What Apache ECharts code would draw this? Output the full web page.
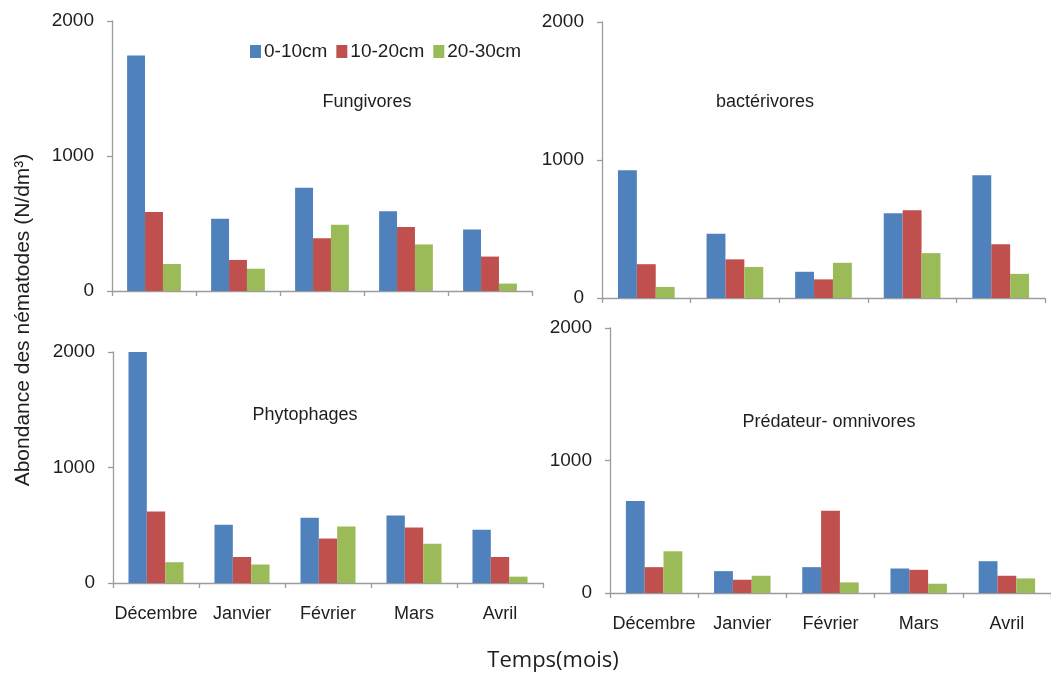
<!DOCTYPE html>
<html>
<head>
<meta charset="utf-8">
<script src="https://cdn.jsdelivr.net/npm/echarts@6/dist/echarts.min.js"></script>
<style>
  html, body { margin: 0; padding: 0; background: #ffffff; }
  #chart { width: 1051px; height: 679px; }
</style>
</head>
<body>
<div id="chart"></div>
<script>
// Months on the x axis and soil depth layers
const months = ['Décembre', 'Janvier', 'Février', 'Mars', 'Avril'];
const depths = ['0-10cm', '10-20cm', '20-30cm'];
const yTicks = [0, 1000, 2000];

// Nematode abundance (N/dm³) by trophic group, one array per depth
const fungivores_0_10 = [1745, 535, 765, 590, 455];
const fungivores_10_20 = [585, 230, 390, 475, 255];
const fungivores_20_30 = [200, 165, 490, 345, 55];

const bacterivores_0_10 = [925, 465, 190, 615, 890];
const bacterivores_10_20 = [245, 280, 135, 635, 390];
const bacterivores_20_30 = [80, 225, 255, 325, 175];

const phytophages_0_10 = [2000, 505, 565, 585, 460];
const phytophages_10_20 = [620, 225, 385, 480, 225];
const phytophages_20_30 = [180, 160, 490, 340, 55];

const predateurs_0_10 = [695, 165, 195, 185, 240];
const predateurs_10_20 = [195, 100, 620, 175, 130];
const predateurs_20_30 = [315, 130, 80, 70, 110];

const panelTitles = ['Fungivores', 'bactérivores', 'Phytophages', 'Prédateur- omnivores'];

const colors = ['#4F81BD', '#C0504D', '#9BBB59'];
const font = "'Liberation Sans', Arial, sans-serif";
const textColor = '#1e1e1e';
const axisColor = '#9c9c9c';

// Layout of the four panels
const grids = [
  { left: 112, top: 21, width: 420, height: 270 },
  { left: 602, top: 22, width: 443, height: 276 },
  { left: 113, top: 352, width: 430, height: 231 },
  { left: 610, top: 328, width: 445, height: 265 }
];
const titlePos = [
  { x: 367, y: 102 },
  { x: 765, y: 102 },
  { x: 305, y: 415 },
  { x: 829, y: 422 }
];

const panelData = [
  [fungivores_0_10, fungivores_10_20, fungivores_20_30],
  [bacterivores_0_10, bacterivores_10_20, bacterivores_20_30],
  [phytophages_0_10, phytophages_10_20, phytophages_20_30],
  [predateurs_0_10, predateurs_10_20, predateurs_20_30]
];

const xAxes = grids.map((g, i) => ({
  type: 'category',
  gridIndex: i,
  data: months,
  axisLine: { show: true, lineStyle: { color: axisColor, width: 1.3 } },
  axisTick: { show: true, length: 5, lineStyle: { color: axisColor, width: 1.3 } },
  axisLabel: {
    show: i >= 2,
    interval: 0,
    margin: 22,
    fontSize: 18,
    fontFamily: font,
    color: textColor
  }
}));

const yAxes = grids.map((g, i) => ({
  type: 'value',
  gridIndex: i,
  min: yTicks[0],
  max: yTicks[yTicks.length - 1],
  interval: 1000,
  splitLine: { show: false },
  axisLine: { show: true, lineStyle: { color: axisColor, width: 1.3 } },
  axisTick: { show: true, length: 5, lineStyle: { color: axisColor, width: 1.3 } },
  axisLabel: {
    margin: 18,
    fontSize: 19,
    fontFamily: font,
    color: textColor,
    formatter: (v) => String(v)
  }
}));

const series = [];
panelData.forEach((group, p) => {
  group.forEach((values, d) => {
    series.push({
      name: depths[d],
      type: 'bar',
      xAxisIndex: p,
      yAxisIndex: p,
      data: values,
      barGap: '0%',
      barCategoryGap: '36%',
      itemStyle: { color: colors[d] },
      emphasis: { disabled: true }
    });
  });
});

const graphics = titlePos.map((pos, i) => ({
  type: 'text',
  x: pos.x,
  y: pos.y,
  style: {
    text: panelTitles[i],
    fill: textColor,
    font: '18px ' + font,
    textAlign: 'center',
    textVerticalAlign: 'middle'
  }
}));

// Shared y-axis title, rotated to read bottom-to-top
graphics.push({
  type: 'text',
  x: 23,
  y: 320,
  rotation: Math.PI / 2,
  style: {
    text: 'Abondance des nématodes (N/dm³)',
    fill: textColor,
    font: '21px ' + font,
    textAlign: 'center',
    textVerticalAlign: 'middle'
  }
});

// Shared x-axis title
graphics.push({
  type: 'text',
  x: 553,
  y: 661,
  style: {
    text: 'Temps(mois)',
    fill: textColor,
    font: "22px 'Open Sans', 'Noto Sans', sans-serif",
    textAlign: 'center',
    textVerticalAlign: 'middle'
  }
});

const chart = echarts.init(document.getElementById('chart'), null, { renderer: 'canvas' });
chart.setOption({
  animation: false,
  backgroundColor: '#ffffff',
  legend: {
    data: depths,
    left: 245,
    top: 37,
    itemWidth: 11,
    itemHeight: 13,
    itemGap: 9,
    icon: 'rect',
    textStyle: { fontSize: 19, fontFamily: font, color: textColor, padding: [0, 0, 0, -2] }
  },
  grid: grids,
  xAxis: xAxes,
  yAxis: yAxes,
  series: series,
  graphic: graphics
});
</script>
</body>
</html>
